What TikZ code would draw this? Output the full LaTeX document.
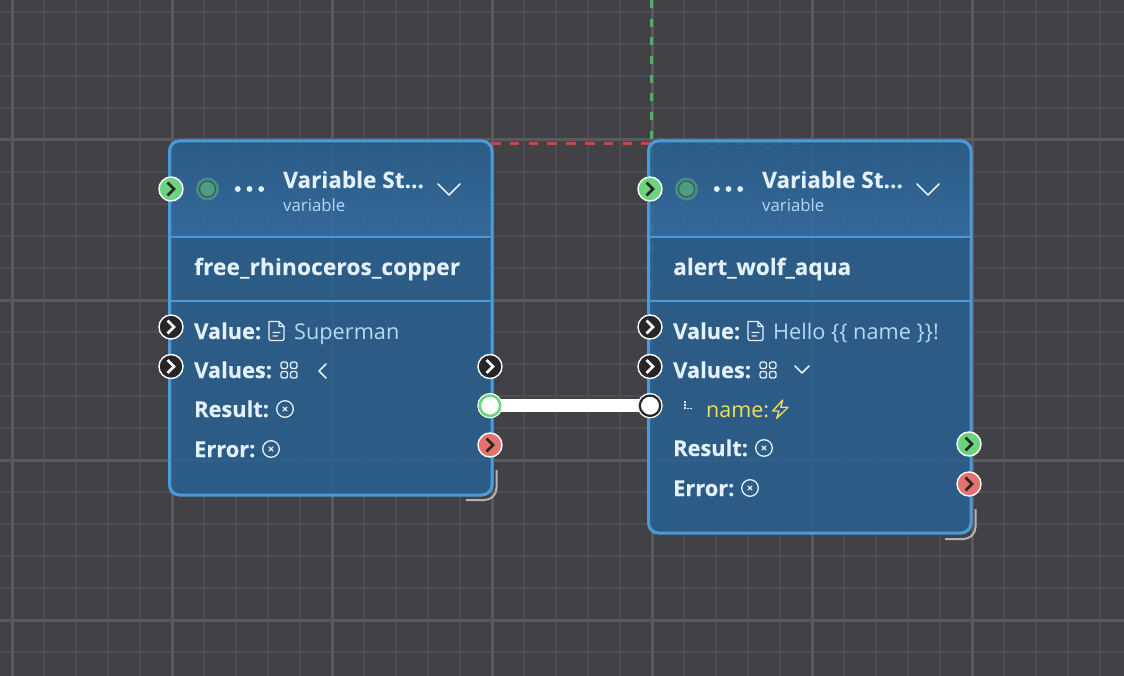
\documentclass[tikz,border=0pt]{standalone}
\usepackage{fontspec}
\setmainfont{Open Sans}[BoldFeatures={FakeBold=0.25}]
\definecolor{bgc}{HTML}{424146}
\definecolor{gminor}{HTML}{4D4C52}
\definecolor{gmajor}{HTML}{5A595E}
\definecolor{nodefill}{HTML}{29608E}
\definecolor{headtop}{HTML}{29608E}
\definecolor{headbot}{HTML}{336EA7}
\definecolor{nodeedge}{HTML}{4A9BDC}
\definecolor{txt}{HTML}{E3F1FC}
\definecolor{subtxt}{HTML}{B5D9F5}
\definecolor{hgreen}{HTML}{6CD37F}
\definecolor{hred}{HTML}{E5706C}
\definecolor{hdark}{HTML}{262628}
\definecolor{dgreen}{HTML}{4CAF65}
\definecolor{dred}{HTML}{BF4A48}
\definecolor{yel}{HTML}{F4DC5C}
\definecolor{stat}{HTML}{4F9C84}
\tikzset{
 x=1pt,y=-1pt,
 nodebox/.style={draw=nodeedge,line width=3pt,rounded corners=10pt},
 sep/.style={draw=nodeedge,line width=2pt},
 handle/.style={circle,draw=white,line width=1.4pt,minimum size=24pt,inner sep=0pt},
 darkh/.style={handle,fill=hdark},
 greenh/.style={handle,fill=hgreen},
 redh/.style={handle,fill=hred},
 chevw/.style={draw=white,line width=2.6pt,line join=miter},
 chevd/.style={draw=hdark,line width=2.6pt,line join=miter},
 lab/.style={anchor=base west,inner sep=0pt,text=txt,font=\fontsize{21.8}{26}\selectfont\bfseries},
 nam/.style={anchor=base west,inner sep=0pt,text=txt,font=\fontsize{22.6}{26}\selectfont\bfseries\addfontfeatures{LetterSpace=0.7}},
 namb/.style={anchor=base west,inner sep=0pt,text=txt,font=\fontsize{22.6}{26}\selectfont\bfseries},
 val/.style={anchor=base west,inner sep=0pt,text=subtxt,font=\fontsize{21.7}{26}\selectfont},
 title/.style={anchor=base west,inner sep=0pt,text=txt,font=\fontsize{22.6}{26}\selectfont\bfseries},
 sub/.style={anchor=base west,inner sep=0pt,text=subtxt,font=\fontsize{16.8}{20}\selectfont},
 icon/.style={draw=txt,line width=1.3pt,line join=round,line cap=round},
 chev/.style={draw=txt,line width=1.5pt,line join=round,line cap=round},
 resize/.style={draw=white!60!bgc,line width=2pt},
}
\newcommand{\chevright}[3]{\draw[#3] (#1-3.5,#2-6.5) -- (#1+3,#2) -- (#1-3.5,#2+6.5);}
\newcommand{\xcirc}[2]{\draw[icon] (#1,#2) circle (8.3);
 \draw[icon] (#1-2,#2-2) -- (#1+2,#2+2) (#1+2,#2-2) -- (#1-2,#2+2);}
\newcommand{\docicon}[2]{\draw[icon] (#1-7.5,#2-9.5) -- (#1+2.5,#2-9.5) -- (#1+7.5,#2-4.5) -- (#1+7.5,#2+7.5) arc[start angle=0,end angle=90,radius=2] -- (#1-5.5,#2+9.5) arc[start angle=90,end angle=180,radius=2] -- cycle
 (#1+2.5,#2-9.5) -- (#1+2.5,#2-4.5) -- (#1+7.5,#2-4.5)
 (#1-3.5,#2+1.5) -- (#1+3.5,#2+1.5) (#1-3.5,#2+5) -- (#1+1,#2+5);}
\newcommand{\gridicon}[2]{\draw[icon,rounded corners=2pt]
 (#1-8,#2-8) rectangle (#1-1.5,#2-1.5) (#1+1.5,#2-8) rectangle (#1+8,#2-1.5)
 (#1-8,#2+1.5) rectangle (#1-1.5,#2+8) (#1+1.5,#2+1.5) rectangle (#1+8,#2+8);}
\newcommand{\statdot}[2]{\fill[stat!75!nodefill] (#1,#2) circle (11.5);
 \draw[fill=stat,draw=hdark!55!stat,line width=1.2pt] (#1,#2) circle (8);}
\newcommand{\dotsicon}[2]{\fill[txt] (#1-11.7,#2) circle (2.9) (#1,#2) circle (2.9) (#1+11.7,#2) circle (2.9);}
\begin{document}
\begin{tikzpicture}
\useasboundingbox (0,0) rectangle (1124,676);
\fill[bgc] (0,0) rectangle (1124,676);
\foreach \yy in {12,44,...,660} \draw[gminor,line width=2pt] (0,\yy) -- (1124,\yy);
\foreach \xx in {12,44,...,1120} \draw[gminor,line width=2pt] (\xx,0) -- (\xx,676);
\foreach \yy in {140,300,460,620} \draw[gmajor,line width=3pt] (0,\yy) -- (1124,\yy);
\foreach \xx in {12,172,332,492,652,812,972} \draw[gmajor,line width=3pt] (\xx,0) -- (\xx,676);
% dashed edges
\coordinate (gtop) at (651,0);
\coordinate (gbot) at (651,295);
\coordinate (rst) at (491,143.5);
\coordinate (rend) at (810,143.5);
\draw[dgreen,line width=3pt,dash pattern=on 8pt off 10.7pt] (gtop) -- (gbot);
\draw[dred,line width=3pt,dash pattern=on 9.5pt off 9.3pt] (rst) -- (rend);
% left node
\fill[nodefill,opacity=.88,rounded corners=10pt] (169.5,237) -- (169.5,495) -- (492,495) -- (492,237) [sharp corners] -- cycle;
\shade[top color=headtop,bottom color=headbot,opacity=.88,rounded corners=10pt] (169.5,237) [sharp corners] -- (169.5,237) [rounded corners=10pt] -- (169.5,141) -- (492,141) [sharp corners] -- (492,237) -- cycle;
\draw[nodebox] (169.5,141) rectangle (492,495);
\draw[sep] (169.5,237) -- (492,237) (169.5,301) -- (492,301);
% right node
\fill[nodefill,opacity=.88,rounded corners=10pt] (648.5,237) -- (648.5,533) -- (971,533) -- (971,237) [sharp corners] -- cycle;
\shade[top color=headtop,bottom color=headbot,opacity=.88,rounded corners=10pt] (648.5,237) [sharp corners] -- (648.5,237) [rounded corners=10pt] -- (648.5,141) -- (971,141) [sharp corners] -- (971,237) -- cycle;
\draw[nodebox] (648.5,141) rectangle (971,533);
\draw[sep] (648.5,237) -- (971,237) (648.5,301) -- (971,301);
% resize corners
\draw[resize] (496.5,470) -- (496.5,488) arc[start angle=0,end angle=90,radius=12] -- (466,500);
\draw[resize] (975.5,509) -- (975.5,527) arc[start angle=0,end angle=90,radius=12] -- (945,539);
% wire
\node[handle,fill=white] (srcO) at (490,405.7) {};
\node[handle,fill=white] (tgtI) at (650,405.7) {};
\draw[white,line width=12.5pt,shorten <=-3pt,shorten >=-3pt] (srcO) -- (tgtI);
\draw[hgreen,fill=white,line width=2.6pt] (490,405.7) circle (10.2);
\draw[hdark,fill=white,line width=2.2pt] (650,405.7) circle (10.2);
% left content
\statdot{207.5}{189}
\dotsicon{249.5}{189}
\node[title] (t1) at (283,188) {Variable St...};
\node[sub] (s1) at (283,212) {variable};
\draw[chev] (438,184) -- (449,195) -- (460,184);
\node[nam] (n1) at (194,275) {free\_rhinoceros\_copper};
\node[lab] (v1) at (194,339) {Value:};
\docicon{276.5}{331}
\node[val] (v1b) at (294,339) {Superman};
\node[lab] (v2) at (194,378) {Values:};
\gridicon{289}{370}
\draw[chev] (326,364) -- (319,371) -- (326,378);
\node[lab] (r1) at (194,417) {Result:};
\xcirc{285}{409}
\node[lab] (e1) at (194,457) {Error:};
\xcirc{271}{449}
% right content
\statdot{686.5}{189}
\dotsicon{728.5}{189}
\node[title] (t2) at (762,188) {Variable St...};
\node[sub] (s2) at (762,212) {variable};
\draw[chev] (917,184) -- (928,195) -- (939,184);
\node[namb] (n2) at (673,275) {alert\_wolf\_aqua};
\node[lab] (v3) at (673,339) {Value:};
\docicon{755.5}{331}
\node[val] (v3b) at (773,339) {Hello \{\{ name \}\}!};
\node[lab] (v4) at (673,378) {Values:};
\gridicon{768}{370}
\draw[chev] (795,366) -- (802,373) -- (809,366);
\draw[txt,line width=1.2pt,dash pattern=on 1.6pt off 1.6pt] (685,401) -- (685,408.5) -- (693,408.5);
\node[anchor=base west,inner sep=0pt,text=yel,font=\fontsize{21.5}{26}\selectfont] (nm) at (706,417) {name:};
\draw[yel,line width=1.3pt,line join=round] (782.7,400) -- (772.7,411) -- (779,411) -- (776.7,418.3) -- (788,407.3) -- (780.7,407.3) -- cycle;
\node[lab] (r2) at (673,456) {Result:};
\xcirc{764}{448}
\node[lab] (e2) at (673,496) {Error:};
\xcirc{750}{488}
% handles left
\node[greenh] (hl1) at (171,189) {}; \chevright{171}{189}{chevd}
\node[darkh] (hl2) at (171,327) {}; \chevright{171}{327}{chevw}
\node[darkh] (hl3) at (171,366.5) {}; \chevright{171}{366.5}{chevw}
\node[darkh] (hl4) at (490,366.5) {}; \chevright{490}{366.5}{chevw}
\node[redh] (hl5) at (490,445) {}; \chevright{490}{445}{chevd}
% handles right
\node[greenh] (hr1) at (650,189) {}; \chevright{650}{189}{chevd}
\node[darkh] (hr2) at (650,327) {}; \chevright{650}{327}{chevw}
\node[darkh] (hr3) at (650,366.5) {}; \chevright{650}{366.5}{chevw}
\node[greenh] (hr4) at (969,444) {}; \chevright{969}{444}{chevd}
\node[redh] (hr5) at (969,484) {}; \chevright{969}{484}{chevd}
\end{tikzpicture}
\end{document}
